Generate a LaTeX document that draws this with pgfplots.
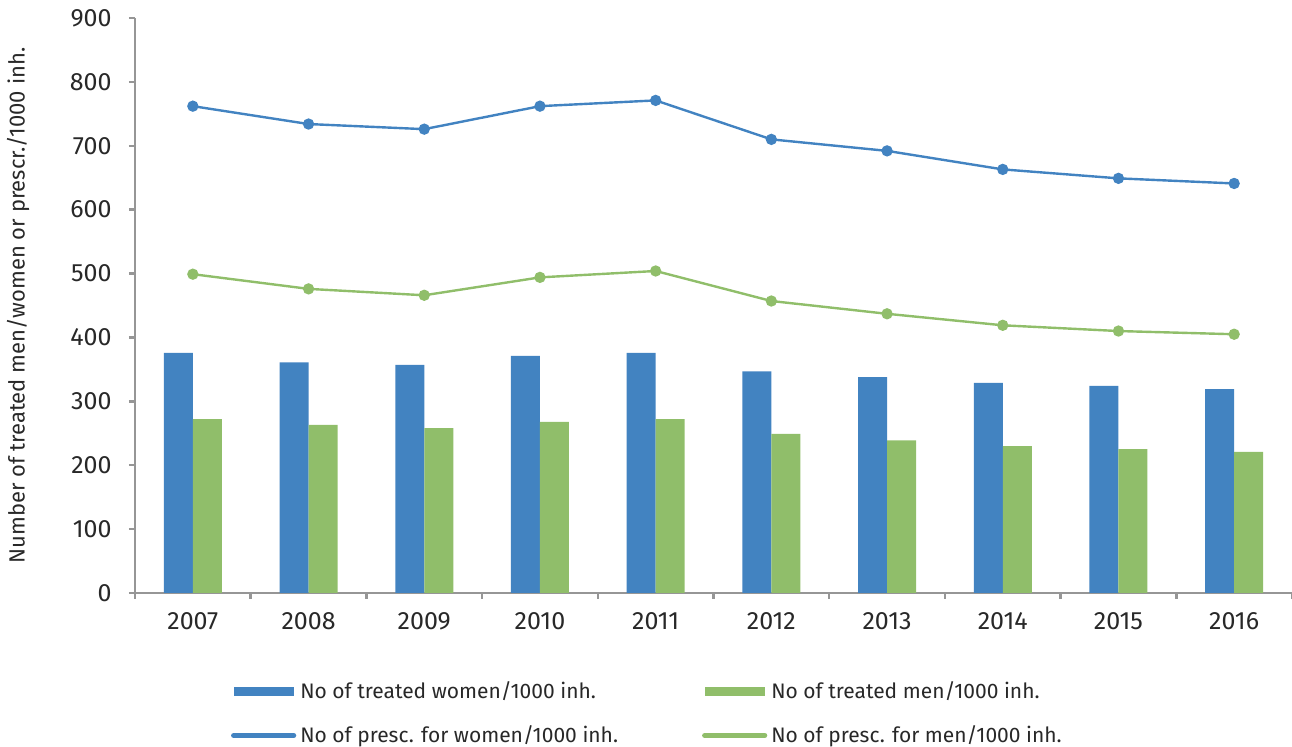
\documentclass[border=0pt]{standalone}
\usepackage{fontspec}
\setmainfont{Fira Sans}
\usepackage{pgfplots}
\usepackage{pgfplotstable}
\pgfplotsset{compat=1.18}
\definecolor{cblue}{RGB}{66,131,193}
\definecolor{cgreen}{RGB}{144,190,106}
\definecolor{caxis}{RGB}{150,150,150}
\definecolor{ctext}{RGB}{40,40,40}

% x: 0 = 2007 ... 9 = 2016
\pgfplotstableread{
x women men pwomen pmen
0 376 272 762 499
1 361 263 734 476
2 357 258 726 466
3 371 268 762 494
4 376 272 771 504
5 347 249 710 457
6 338 239 692 437
7 329 230 663 419
8 324 225 649 410
9 319 221 641 405
}\data

\begin{document}
\fontsize{10.5}{12}\selectfont
\begin{tikzpicture}
\useasboundingbox (-67.5pt,-77pt) rectangle (578.5pt,296.5pt);
\begin{axis}[
scale only axis,
width=578.5pt, height=287.5pt,
xmin=-0.5, xmax=9.5,
ymin=0, ymax=900,
axis lines=left,
axis line style={draw=caxis, line width=1.2pt, -},
xtick={0,...,9},
xticklabels={2007,2008,2009,2010,2011,2012,2013,2014,2015,2016},
minor xtick={-0.5,0.5,...,9.5},
major x tick style={draw=none},
ytick={0,100,...,900},
tick align=outside,
tick style={draw=caxis, line width=1.2pt},
major tick length=3pt, minor tick length=3pt,
/pgf/number format/assume math mode=true,
ticklabel style={font=\fontsize{12.5}{14}\selectfont, text=ctext},
x tick label style={yshift=-3pt},
y tick label style={xshift=-5pt},
ylabel={Number of treated men/women or prescr./1000 inh.},
ylabel style={at={(rel axis cs:-0.101,0.5)}, anchor=center, font=\fontsize{11}{13}\selectfont, text=ctext},
clip=false,
legend columns=2,
legend cell align=left,
legend style={draw=none, fill=none, at={(rel axis cs:0.0775,-0.139)}, anchor=north west,
  font=\fontsize{10.5}{12}\selectfont, text=ctext, row sep=8pt,
  /tikz/every even column/.append style={column sep=40pt}},
]
\addplot[ybar, bar width=14.5pt, bar shift=-7.25pt, fill=cblue, draw=none,
  legend image code/.code={\fill[cblue] (0pt,-2.25pt) rectangle (30pt,2.25pt);}]
  table[x=x, y=women] {\data};
\addlegendentry{No of treated women/1000 inh.}
\addplot[ybar, bar width=14.5pt, bar shift=7.25pt, fill=cgreen, draw=none,
  legend image code/.code={\fill[cgreen] (0pt,-2.25pt) rectangle (30pt,2.25pt);}]
  table[x=x, y=men] {\data};
\addlegendentry{No of treated men/1000 inh.}
\addplot[cblue, line width=1.2pt, mark=*, mark size=2.2pt,
  legend image code/.code={\draw[cblue, line width=2.6pt, line cap=round] (0pt,0pt) -- (30pt,0pt);}]
  table[x=x, y=pwomen] {\data};
\addlegendentry{No of presc. for women/1000 inh.}
\addplot[cgreen, line width=1.2pt, mark=*, mark size=2.2pt,
  legend image code/.code={\draw[cgreen, line width=2.6pt, line cap=round] (0pt,0pt) -- (30pt,0pt);}]
  table[x=x, y=pmen] {\data};
\addlegendentry{No of presc. for men/1000 inh.}
\end{axis}
\end{tikzpicture}
\end{document}
